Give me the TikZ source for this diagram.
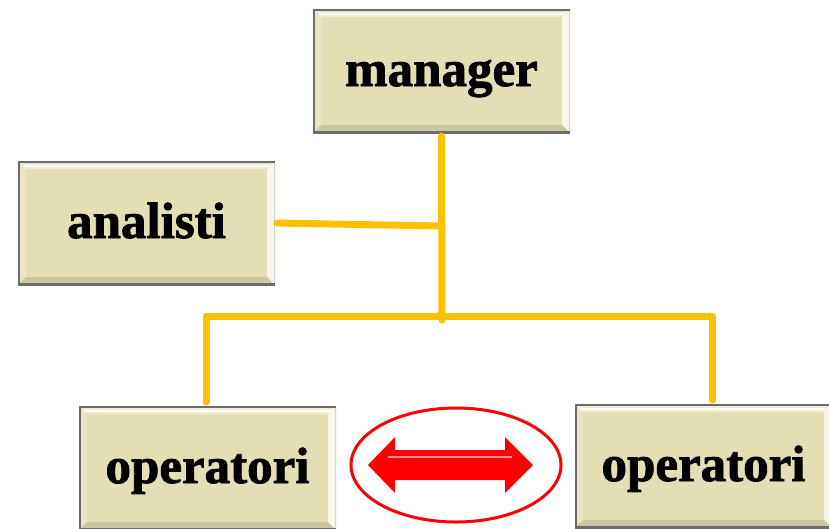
\documentclass[tikz,border=0pt]{standalone}
\usepackage{fontspec}
\setmainfont{Liberation Serif}
\newfontfamily\rolefont[FakeBold=1.6]{Liberation Serif Bold}
\usetikzlibrary{shapes.geometric}

\definecolor{boxfill}{HTML}{E4DEB4}
\definecolor{boxtop}{HTML}{F1ECD0}
\definecolor{boxleft}{HTML}{EAE5C4}
\definecolor{boxright}{HTML}{F8F6EA}
\definecolor{boxbottom}{HTML}{CBC6A4}
\definecolor{boxedge}{HTML}{6C6C6C}
\definecolor{boxedgelight}{HTML}{D4D4D4}
\definecolor{linkcol}{HTML}{FFC000}
\definecolor{arrowred}{HTML}{FF0000}
\definecolor{arrowlight}{HTML}{FF8C8C}

\tikzset{
  rolebox/.style={
    rectangle, fill=boxfill, inner sep=0pt,
    minimum width=257pt, minimum height=124pt,
    text height=30pt, text depth=0pt,
    font=\rolefont\fontsize{51}{51}\selectfont,
    path picture={
      \coordinate (pNW) at (path picture bounding box.north west);
      \coordinate (pNE) at (path picture bounding box.north east);
      \coordinate (pSW) at (path picture bounding box.south west);
      \coordinate (pSE) at (path picture bounding box.south east);
      % bevelled rim
      \fill[boxtop] (pNW) -- (pNE) -- ([shift={(-8pt,-8pt)}]pNE) -- ([shift={(8pt,-8pt)}]pNW) -- cycle;
      \fill[boxleft] (pNW) -- ([shift={(8pt,-8pt)}]pNW) -- ([shift={(8pt,8pt)}]pSW) -- (pSW) -- cycle;
      \fill[boxright] (pNE) -- (pSE) -- ([shift={(-8pt,8pt)}]pSE) -- ([shift={(-8pt,-8pt)}]pNE) -- cycle;
      \fill[boxbottom] (pSW) -- ([shift={(8pt,8pt)}]pSW) -- ([shift={(-8pt,8pt)}]pSE) -- (pSE) -- cycle;
      \draw[white, line width=1.2pt] ([shift={(5pt,-5pt)}]pNW) -- ([shift={(-5pt,-5pt)}]pNE);
      % outer edge
      \draw[boxedgelight, line width=3pt] (pNE) -- (pSE);
      \draw[boxedge, line width=4pt] (pSE) -- (pSW) -- (pNW) -- (pNE);
    }
  },
  link/.style={draw=linkcol, line width=7pt, line cap=round, line join=round},
  ring/.style={ellipse, draw=arrowred, line width=3pt, inner sep=0pt,
    minimum width=210pt, minimum height=114pt}
}

\begin{document}
\begin{tikzpicture}[x=1pt, y=-1pt]
  \useasboundingbox (0,0) rectangle (829,528);

  % role boxes
  \node[rolebox] (man) at (441.5,71) {manager};
  \node[rolebox] (ana) at (146.5,223) {analisti};
  \node[rolebox] (opL) at (207.5,468) {operatori};
  \node[rolebox] (opR) at (703.5,466) {operatori};

  % junction points of the tree
  \coordinate (stem) at (442,320);
  \coordinate (tee) at (442,226);
  \coordinate (busC) at (442,316);
  \coordinate (dropL) at (206,402);
  \coordinate (dropR) at (712,400);

  % connectors
  \draw[link, shorten <=3pt] (man.south) -- (stem);
  \draw[link, shorten <=2pt] (ana.east) -- (tee);
  \draw[link] (dropL) |- (busC) -| (dropR);

  % two-way arrow in a ring
  \node[ring] (loop) at (456,465) {};
  \fill[arrowred] (368,465) -- (395,437) -- (395,450) -- (505,450) -- (505,437)
    -- (533,465) -- (505,493) -- (505,480) -- (395,480) -- (395,493) -- cycle;
  \draw[arrowlight, line width=1.5pt] (388,457) -- (512,457);
\end{tikzpicture}
\end{document}
